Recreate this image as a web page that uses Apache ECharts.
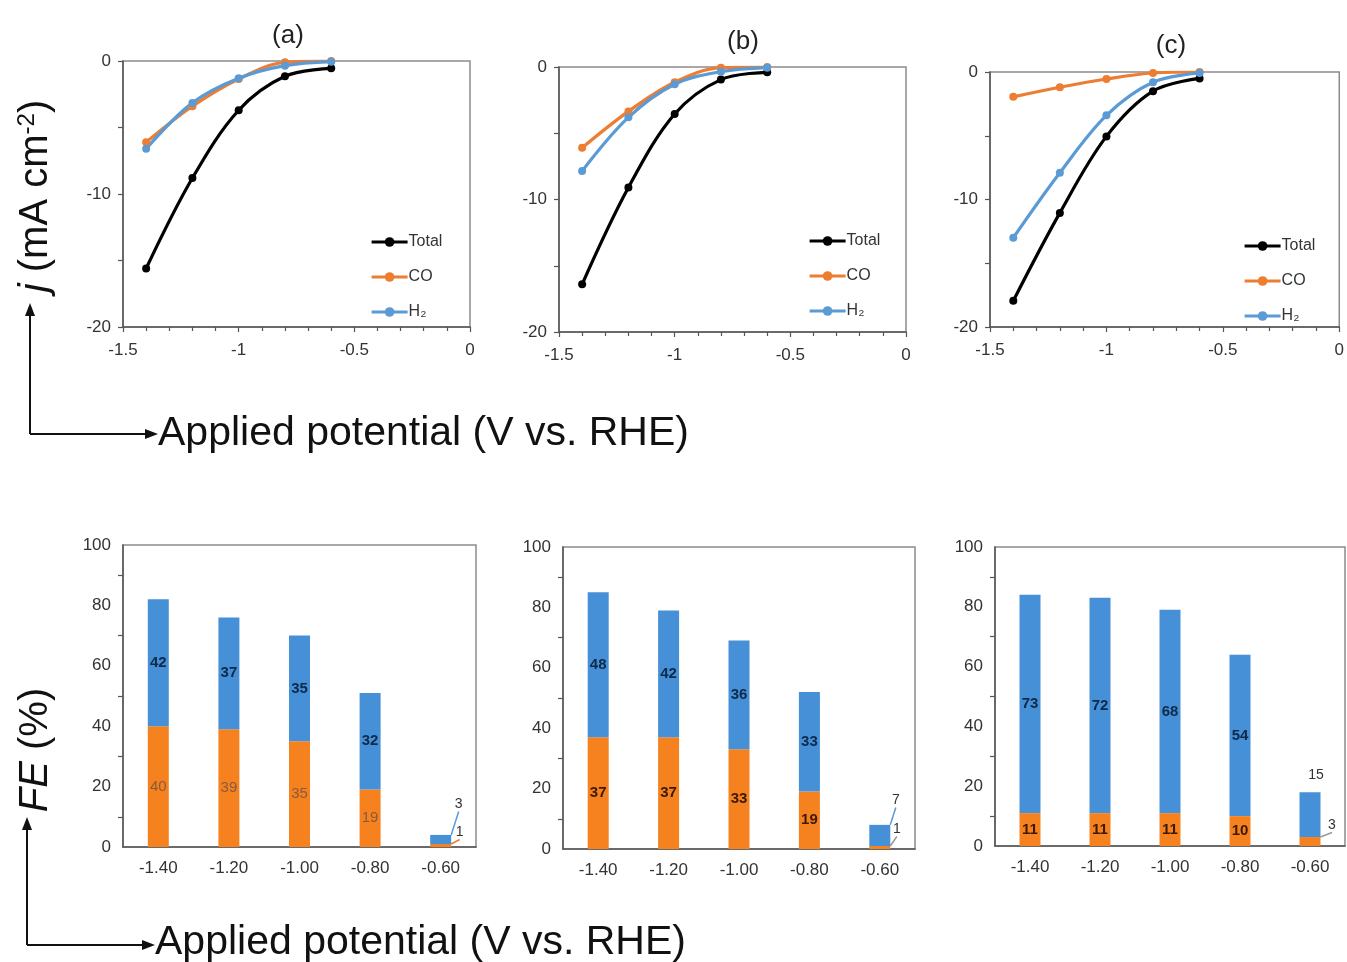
<!DOCTYPE html>
<html>
<head>
<meta charset="utf-8">
<script src="https://cdn.jsdelivr.net/npm/echarts@6/dist/echarts.min.js"></script>
<style>
  html, body { margin: 0; padding: 0; background: #fff; }
  #chart { width: 1347px; height: 962px; }
</style>
</head>
<body>
<div id="chart"></div>
<script>
// potentials (V vs. RHE)
const potentials = [-1.4, -1.2, -1.0, -0.8, -0.6];
const potentialLabels = ['-1.40', '-1.20', '-1.00', '-0.80', '-0.60'];

// current density j (mA cm-2), panels a/b/c
const totalA = [-15.6, -8.8, -3.7, -1.15, -0.55];
const coA = [-6.1, -3.4, -1.35, -0.1, 0];
const h2A = [-6.6, -3.15, -1.3, -0.35, -0.05];

const totalB = [-16.4, -9.1, -3.55, -0.95, -0.4];
const coB = [-6.1, -3.35, -1.15, -0.05, 0];
const h2B = [-7.85, -3.8, -1.3, -0.35, -0.05];

const totalC = [-17.95, -11.05, -5.05, -1.5, -0.5];
const coC = [-1.95, -1.2, -0.55, -0.08, 0];
const h2C = [-13.0, -7.9, -3.4, -0.8, -0.08];

// faradaic efficiency (%)
const feCoA = [40, 39, 35, 19, 1];
const feH2A = [42, 37, 35, 32, 3];
const feCoB = [37, 37, 33, 19, 1];
const feH2B = [48, 42, 36, 33, 7];
const feCoC = [11, 11, 11, 10, 3];
const feH2C = [73, 72, 68, 54, 15];

const BLACK = '#000000', ORANGE = '#ED7D31', BLUE = '#5B9BD5';
const BAR_ORANGE = '#F5821F', BAR_BLUE = '#4690D8';
const FONT = 'Liberation Sans, Arial, sans-serif';

const chart = echarts.init(document.getElementById('chart'));

const topGrids = [
  { left: 123, top: 61, width: 347, height: 266 },
  { left: 559, top: 67, width: 347, height: 265 },
  { left: 990, top: 72, width: 351, height: 255 }
];
const botGrids = [
  { left: 123, top: 545, width: 353, height: 302 },
  { left: 563, top: 547, width: 352, height: 302 },
  { left: 995, top: 547, width: 350, height: 299 }
];
const grids = topGrids.concat(botGrids).map(g => Object.assign({
  show: true, borderColor: '#8c8c8c', borderWidth: 1.5, backgroundColor: 'transparent'
}, g));

const axisLine = { onZero: false, lineStyle: { color: '#555', width: 1.5 } };
const axisLabel = { color: '#333', fontSize: 17, fontFamily: FONT };
const tick = { length: 5, lineStyle: { color: '#555', width: 1.2 } };

const xAxes = [], yAxes = [];
for (let i = 0; i < 3; i++) {
  xAxes.push({
    type: 'value', gridIndex: i, min: -1.5, max: 0, interval: 0.5,
    axisLine: axisLine, axisTick: tick,
    minorTick: { show: true, splitNumber: 5, length: 4, lineStyle: { color: '#555', width: 1.2 } },
    splitLine: { show: false }, axisLabel: Object.assign({ margin: 15 }, axisLabel)
  });
  yAxes.push({
    type: 'value', gridIndex: i, min: -20, max: 0, interval: 10,
    axisLine: Object.assign({ show: true }, axisLine), axisTick: tick,
    minorTick: { show: true, splitNumber: 2, length: 5, lineStyle: { color: '#555', width: 1.2 } },
    splitLine: { show: false }, axisLabel: Object.assign({ margin: 12 }, axisLabel)
  });
}
for (let i = 0; i < 3; i++) {
  xAxes.push({
    type: 'category', gridIndex: 3 + i, data: potentialLabels,
    axisLine: axisLine, axisTick: { show: false },
    axisLabel: Object.assign({ margin: 13 }, axisLabel)
  });
  yAxes.push({
    type: 'value', gridIndex: 3 + i, min: 0, max: 100, interval: 20,
    axisLine: Object.assign({ show: true }, axisLine), axisTick: tick,
    minorTick: { show: true, splitNumber: 2, length: 5, lineStyle: { color: '#555', width: 1.2 } },
    splitLine: { show: false }, axisLabel: Object.assign({ margin: 12 }, axisLabel)
  });
}

function lineSeries(name, color, values, idx) {
  return {
    name: name, type: 'line', xAxisIndex: idx, yAxisIndex: idx,
    data: potentials.map((p, k) => [p, values[k]]),
    smooth: 0.35, symbol: 'circle', symbolSize: 8,
    lineStyle: { color: color, width: 3.2 }, itemStyle: { color: color }, z: name === 'Total' ? 3 : 4
  };
}

// the tiny last bar gets its labels moved out, with a guide line
function barSeries(name, values, idx, color, labelColor, bold, moves, guideColor) {
  const data = values.map((v, k) => k === 4
    ? { value: v, label: { fontWeight: 'normal', color: '#333', fontSize: 14 } }
    : v);
  return {
    name: name, type: 'bar', stack: 'fe' + idx, xAxisIndex: idx, yAxisIndex: idx,
    data: data, barWidth: 21, itemStyle: { color: color },
    label: {
      show: true, position: 'inside', color: labelColor, fontSize: 15,
      fontWeight: bold ? 'bold' : 'normal', fontFamily: FONT
    },
    labelLine: { show: true, lineStyle: { color: guideColor, width: 1.5 } },
    labelLayout: function (p) {
      if (p.dataIndex === 4) return { dx: moves[0], dy: moves[1] };
      return {};
    }
  };
}

const series = [
  lineSeries('Total', BLACK, totalA, 0), lineSeries('CO', ORANGE, coA, 0), lineSeries('H₂', BLUE, h2A, 0),
  lineSeries('Total', BLACK, totalB, 1), lineSeries('CO', ORANGE, coB, 1), lineSeries('H₂', BLUE, h2B, 1),
  lineSeries('Total', BLACK, totalC, 2), lineSeries('CO', ORANGE, coC, 2), lineSeries('H₂', BLUE, h2C, 2),
  barSeries('CO FE', feCoA, 3, BAR_ORANGE, '#8a5a3c', false, [19, -13], ORANGE),
  barSeries('H2 FE', feH2A, 3, BAR_BLUE, '#0d2a4a', true, [18, -35], BLUE),
  barSeries('CO FE', feCoB, 4, BAR_ORANGE, '#3a1a05', true, [17, -18], '#999'),
  barSeries('H2 FE', feH2B, 4, BAR_BLUE, '#0d2a4a', true, [16, -35], BLUE),
  barSeries('CO FE', feCoC, 5, BAR_ORANGE, '#3a1a05', true, [22, -16], '#999'),
  barSeries('H2 FE', feH2C, 5, BAR_BLUE, '#0d2a4a', true, [6, -39], 'transparent')
];

const legendPos = [[365, 229], [803, 228], [1238, 233]];
const legends = legendPos.map(p => ({
  data: ['Total', 'CO', 'H₂'], orient: 'vertical', left: p[0], top: p[1],
  itemWidth: 36, itemHeight: 12, itemGap: 19, selectedMode: false,
  lineStyle: { width: 3.2 },
  textStyle: { fontSize: 16, color: '#333', fontFamily: FONT, padding: [0, 0, 0, -4] }
}));

const titles = [['(a)', 283, 18], ['(b)', 738, 24], ['(c)', 1166, 28]].map(t => ({
  text: t[0], left: t[1], top: t[2], textAlign: 'center',
  textStyle: { fontSize: 26, fontWeight: 'normal', color: '#222', fontFamily: FONT }
}));

function arrowHead(x, y, dir) {
  // dir: 'up' or 'right', tip at (x, y)
  const pts = dir === 'up' ? [[x, y], [x - 5, y + 13], [x + 5, y + 13]] : [[x, y], [x - 13, y - 5], [x - 13, y + 5]];
  return { type: 'polygon', shape: { points: pts }, style: { fill: '#111' } };
}
function seg(x1, y1, x2, y2) {
  return { type: 'line', shape: { x1: x1, y1: y1, x2: x2, y2: y2 }, style: { stroke: '#111', lineWidth: 2 } };
}

const graphics = [
  seg(30, 434, 30, 312), arrowHead(30, 303, 'up'),
  seg(30, 434, 148, 434), arrowHead(158, 434, 'right'),
  {
    type: 'text', x: 158, y: 434,
    style: { text: 'Applied potential (V vs. RHE)', font: '41px ' + FONT, fill: '#111', verticalAlign: 'middle' }
  },
  {
    type: 'text', x: 36, y: 196, rotation: Math.PI / 2,
    style: {
      text: '{i|j} (mA cm{s|-2})', align: 'center', verticalAlign: 'middle', fill: '#111',
      font: '40px ' + FONT,
      rich: {
        i: { fontStyle: 'italic', fontSize: 40, fontFamily: FONT, fill: '#111' },
        s: { fontSize: 24, fontFamily: FONT, fill: '#111', verticalAlign: 'top', padding: [0, 0, 18, 0] }
      }
    }
  },
  seg(27, 945, 27, 826), arrowHead(27, 817, 'up'),
  seg(27, 945, 145, 945), arrowHead(155, 945, 'right'),
  {
    type: 'text', x: 155, y: 943,
    style: { text: 'Applied potential (V vs. RHE)', font: '41px ' + FONT, fill: '#111', verticalAlign: 'middle' }
  },
  {
    type: 'text', x: 36, y: 750, rotation: Math.PI / 2,
    style: {
      text: '{i|FE} (%)', align: 'center', verticalAlign: 'middle', fill: '#111',
      font: '40px ' + FONT,
      rich: { i: { fontStyle: 'italic', fontSize: 40, fontFamily: FONT, fill: '#111' } }
    }
  }
];

chart.setOption({
  backgroundColor: '#fff',
  animation: false,
  title: titles,
  legend: legends,
  grid: grids,
  xAxis: xAxes,
  yAxis: yAxes,
  series: series,
  graphic: graphics
});
</script>
</body>
</html>
